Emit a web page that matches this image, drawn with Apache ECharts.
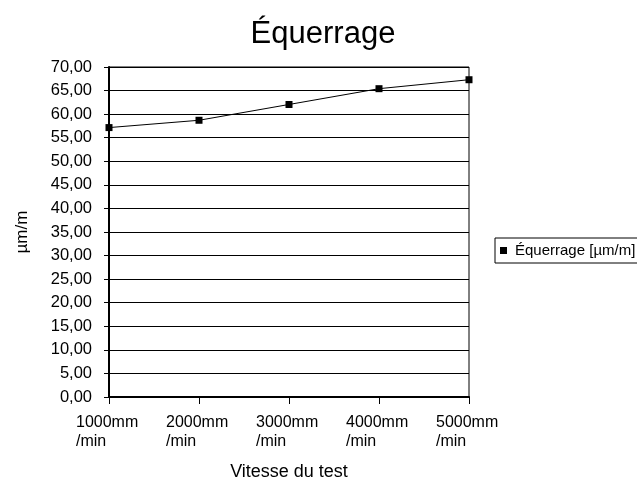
<!DOCTYPE html>
<html>
<head>
<meta charset="utf-8">
<script src="https://cdn.jsdelivr.net/npm/echarts@6/dist/echarts.min.js"></script>
<style>html,body{margin:0;padding:0;background:#fff}#c{width:637px;height:485px}</style>
</head>
<body>
<div id="c"></div>
<script>
const categories = ['1000mm\n/min', '2000mm\n/min', '3000mm\n/min', '4000mm\n/min', '5000mm\n/min'];
const values = [57.15, 58.7, 62.05, 65.4, 67.3];
const seriesName = 'Équerrage [µm/m]';
const titleText = 'Équerrage';
const yName = 'µm/m';
const xName = 'Vitesse du test';

const F = 'Liberation Sans, Arial, sans-serif';
const chart = echarts.init(document.getElementById('c'), null, {renderer: 'canvas'});
chart.setOption({
  animation: false,
  backgroundColor: '#fff',
  title: {text: titleText, top: 19, left: 323, textAlign: 'center', padding: 0,
    textStyle: {fontFamily: F, fontSize: 31, fontWeight: 'normal', color: '#000'}},
  grid: {left: 109, right: 168, top: 67, bottom: 88, show: true, borderColor: '#000', borderWidth: 1,
    containLabel: false, outerBoundsMode: 'none'},
  legend: {
    data: [{name: seriesName, icon: 'rect'}],
    left: 495, top: 238, orient: 'vertical',
    itemWidth: 7, itemHeight: 7, itemGap: 4,
    padding: [5, 12, 5, 5],
    borderColor: '#000', borderWidth: 1,
    textStyle: {fontFamily: F, fontSize: 15, color: '#000', padding: [0, 0, 0, 3]}
  },
  xAxis: {
    type: 'category', data: categories, boundaryGap: false,
    name: xName, nameLocation: 'middle', nameGap: 66, nameMoveOverlap: false,
    nameTextStyle: {fontFamily: F, fontSize: 18, color: '#000'},
    axisLine: {lineStyle: {color: '#000', width: 2}},
    axisTick: {show: true, length: 7, interval: 0, lineStyle: {color: '#000', width: 1}},
    axisLabel: {
      interval: 0, margin: 16, color: '#000', fontFamily: F, fontSize: 16, lineHeight: 19,
      formatter: function (v) { return v.split('\n').map(s => '{a|' + s + '}').join('\n'); },
      rich: {a: {width: 66, align: 'left', fontFamily: F, fontSize: 16, lineHeight: 19, color: '#000'}}
    },
    splitLine: {show: false}
  },
  yAxis: {
    type: 'value', min: 0, max: 70, interval: 5,
    name: yName, nameLocation: 'middle', nameGap: 78, nameRotate: 90, nameMoveOverlap: false,
    nameTextStyle: {fontFamily: F, fontSize: 17, color: '#000'},
    axisLine: {show: true, lineStyle: {color: '#000', width: 2}},
    axisTick: {show: true, length: 5, lineStyle: {color: '#000', width: 1}},
    axisLabel: {margin: 17, color: '#000', fontFamily: F, fontSize: 16.5,
      formatter: function (v) { return v.toFixed(2).replace('.', ','); }},
    splitLine: {lineStyle: {color: '#000', width: 1}}
  },
  series: [{
    name: seriesName, type: 'line', data: values,
    symbol: 'rect', symbolSize: 7, showSymbol: true,
    lineStyle: {color: '#000', width: 1},
    itemStyle: {color: '#000'}
  }]
});
</script>
</body>
</html>
